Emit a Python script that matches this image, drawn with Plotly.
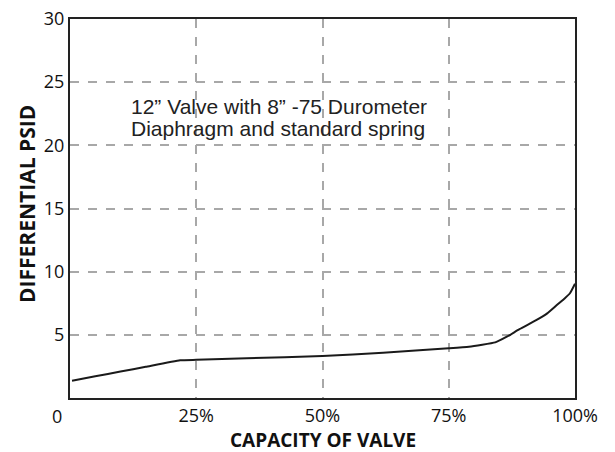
import plotly.graph_objects as go

capacity_pct = [0.4, 5, 10, 15, 21.8, 25, 35, 50, 62, 75, 79, 84.2, 86.5, 89, 92.4, 94.5, 96.4, 98, 99, 100]
psid = [1.37, 1.72, 2.09, 2.47, 2.98, 3.02, 3.14, 3.33, 3.58, 3.93, 4.06, 4.4, 4.85, 5.45, 6.18, 6.7, 7.36, 7.9, 8.29, 9.05]

x_tickvals = [25, 50, 75, 100]
x_ticktext = ["25%", "50%", "75%", "100%"]
y_tickvals = [5, 10, 15, 20, 25, 30]
y_ticktext = ["5", "10", "15", "20", "25", "30"]
note_lines = ["12\u201d Valve with 8\u201d -75 Durometer", "Diaphragm and standard spring"]
note_y = [23.04, 21.3]
x_title = "CAPACITY OF VALVE"
y_title = "DIFFERENTIAL PSID"

tick_font = dict(family="Open Sans, Lato, sans-serif", size=18, color="#111")
xtitle_font = dict(family="Open Sans, Lato, sans-serif", size=19, color="#111", weight="bold")
ytitle_font = dict(family="Open Sans, Lato, sans-serif", size=21, color="#111", weight="bold")
note_font = dict(family="Liberation Sans, Arial, sans-serif", size=21, color="#222")

fig = go.Figure()
fig.add_trace(go.Scatter(x=capacity_pct, y=psid, mode="lines",
                         line=dict(color="#1a1a1a", width=2, shape="spline", smoothing=0.4),
                         showlegend=False, hoverinfo="skip"))

# the page body has an 8px margin, so the figure is 8px smaller than the window
fig.update_layout(
    width=607, height=444,
    margin=dict(l=62, r=40, t=11, b=54, autoexpand=False),
    paper_bgcolor="white", plot_bgcolor="white",
    xaxis=dict(range=[0, 100], tickvals=x_tickvals, ticktext=x_ticktext,
               showgrid=True, gridcolor="#a8a8a8", griddash="dash", gridwidth=1.5,
               showline=True, linecolor="#222", linewidth=2, mirror=True,
               ticks="", ticklabeloverflow="allow",
               tickfont=tick_font, zeroline=False, automargin=False),
    yaxis=dict(range=[0, 30], tickvals=y_tickvals, ticktext=y_ticktext,
               showgrid=True, gridcolor="#a8a8a8", griddash="dash", gridwidth=1.5,
               showline=True, linecolor="#222", linewidth=2, mirror=True,
               ticks="", ticklabeloverflow="allow",
               tickfont=tick_font, zeroline=False, automargin=False),
)

fig.add_annotation(x=0, y=0, xref="x", yref="y", text="0", showarrow=False,
                   font=tick_font, xanchor="center", yanchor="top", xshift=-13, yshift=-4)
fig.add_annotation(x=0.5, y=0, xref="paper", yref="paper", text=x_title, showarrow=False,
                   font=xtitle_font, xanchor="center", yanchor="middle", yshift=-42)
fig.add_annotation(x=0, y=0.512, xref="paper", yref="paper", text=y_title, showarrow=False,
                   font=ytitle_font, textangle=-90, xanchor="center", yanchor="middle", xshift=-43)
for line_text, yv in zip(note_lines, note_y):
    fig.add_annotation(x=11.7, y=yv, xref="x", yref="y", text=line_text, showarrow=False,
                       align="left", xanchor="left", yanchor="middle", font=note_font)

fig.write_html("out.html")
